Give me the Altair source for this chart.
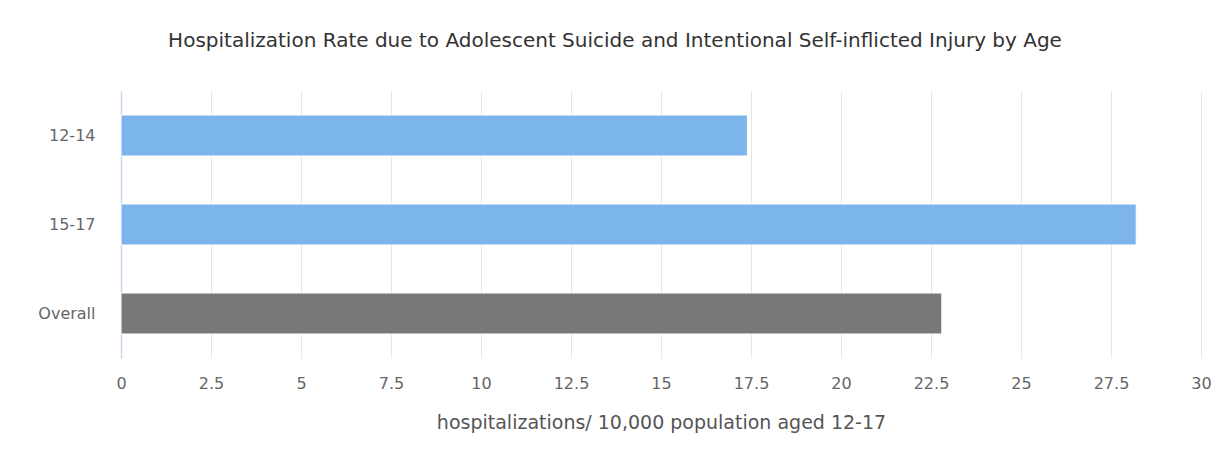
import altair as alt
import pandas as pd

categories = ["12-14", "15-17", "Overall"]
values = [17.4, 28.2, 22.8]
colors = ["#7cb5ec", "#7cb5ec", "#787878"]
x_ticks = [0, 2.5, 5, 7.5, 10, 12.5, 15, 17.5, 20, 22.5, 25, 27.5, 30]

df = pd.DataFrame({"age": categories, "rate": values, "color": colors})

FONT = "DejaVu Sans"

chart = alt.Chart(df).mark_bar(stroke="#ffffff", strokeWidth=1).encode(
    y=alt.Y("age:N", sort=categories, title=None,
            scale=alt.Scale(paddingInner=0.54, paddingOuter=0.27),
            axis=alt.Axis(labelFontSize=16, labelColor="#666666", labelFont=FONT,
                          ticks=False, domainColor="#ccd6eb", domainWidth=1.5,
                          labelPadding=26, grid=False)),
    x=alt.X("rate:Q", title="hospitalizations/ 10,000 population aged 12-17",
            scale=alt.Scale(domain=[0, 30], nice=False),
            axis=alt.Axis(values=x_ticks, format=".1~f", labelFontSize=16, labelColor="#666666",
                          labelFont=FONT, titleFont=FONT, titleFontSize=19,
                          titleColor="#555555", titleFontWeight="normal",
                          ticks=False, domain=False, labelPadding=17, titlePadding=22,
                          gridColor="#e6e6e6", gridWidth=1, labelFlush=False)),
    color=alt.Color("color:N", scale=None, legend=None),
).properties(
    width=1080,
    height=267,
    title=alt.TitleParams("Hospitalization Rate due to Adolescent Suicide and Intentional Self-inflicted Injury by Age",
                          font=FONT, fontSize=20, fontWeight="normal", color="#333333",
                          offset=40, dx=-46),
    autosize=alt.AutoSizeParams(type="none"),
    padding={"left": 113, "top": 83, "right": 14, "bottom": 87},
).configure(background="#ffffff").configure_view(stroke=None)

chart.save("out.html", embed_options={"renderer": "svg", "actions": False})
